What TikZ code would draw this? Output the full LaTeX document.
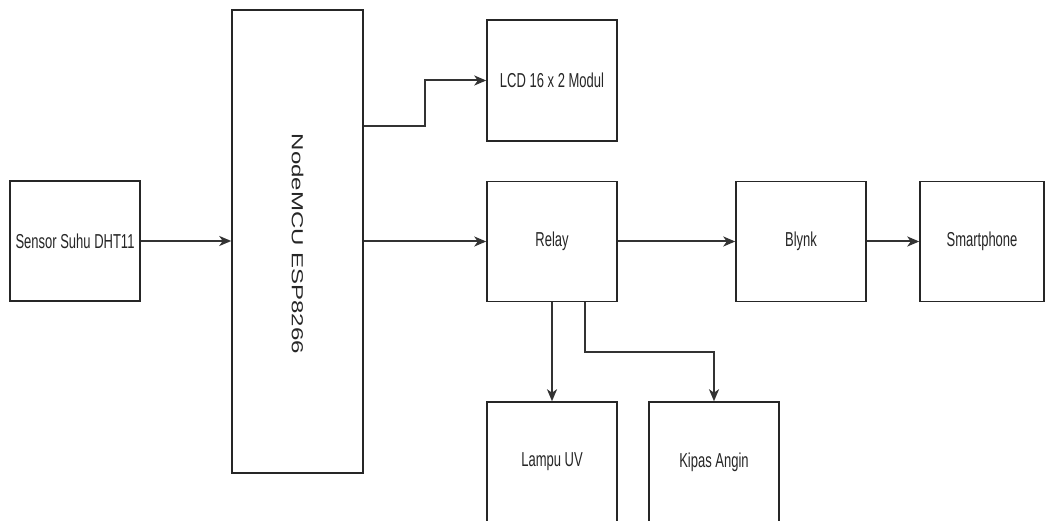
\documentclass[tikz,border=0pt]{standalone}
\usepackage{fontspec}
\setmainfont{Liberation Sans}
\usepackage{tikz}
\usetikzlibrary{arrows.meta,positioning,calc}

% text in the picture is drawn a bit taller than wide
\newcommand{\tall}[1]{\scalebox{1}[1.55]{#1}}

\begin{document}
\begin{tikzpicture}[
  x=1pt, y=-1pt,
  block/.style={rectangle, draw=black!85, line width=1.5pt, fill=white, minimum width=130pt, minimum height=120pt, inner sep=0pt, font=\fontsize{13}{15}\selectfont, text=black!85},
  link/.style={-{Stealth[length=12pt, width=10pt, inset=3.5pt]}, line width=2pt, draw=black!80},
  >=Stealth
]
  \useasboundingbox (0,0) rectangle (1046,521);

  % input and controller
  \node[block] (sensor) at (75,241) {\tall{Sensor Suhu DHT11}};
  \node[block, minimum width=131pt, minimum height=463pt] (mcu) at (297.5,241.5) {};
  \node[rotate=-90, font=\fontsize{16}{18}\selectfont, text=black!85] (mculabel) at (297.5,244) {\scalebox{1.5}[1]{NodeMCU ESP8266}};

  % outputs
  \node[block, minimum height=121pt] (lcd) at (552,80.5) {\tall{LCD 16 x 2 Modul}};
  \node[block] (relay) at (552,241.5) {\tall{Relay}};
  \node[block] (blynk) at (801,241.5) {\tall{Blynk}};
  \node[block, minimum width=124pt] (phone) at (982,241.5) {\tall{Smartphone}};
  \node[block] (lampu) at (552,462) {\tall{Lampu UV}};
  \node[block] (kipas) at (714,462) {\tall{Kipas Angin}};

  % free ends on the box sides
  \coordinate (lcdout) at (mcu.east |- 0,126);
  \coordinate (relayout) at (585,301.5);

  % connections
  \draw[link] (sensor.east) -- (sensor.east -| mcu.west);
  \draw[link] (lcdout) -- ++(61,0) |- (lcd.west);
  \draw[link] (relay.west -| mcu.east) -- (relay.west);
  \draw[link] (relay.east) -- (blynk.west);
  \draw[link] (blynk.east) -- (phone.west);
  \draw[link] (relay.south) -- (lampu.north);
  \draw[link] (relayout) -- ++(0,50.5) -| (kipas.north);
\end{tikzpicture}
\end{document}
